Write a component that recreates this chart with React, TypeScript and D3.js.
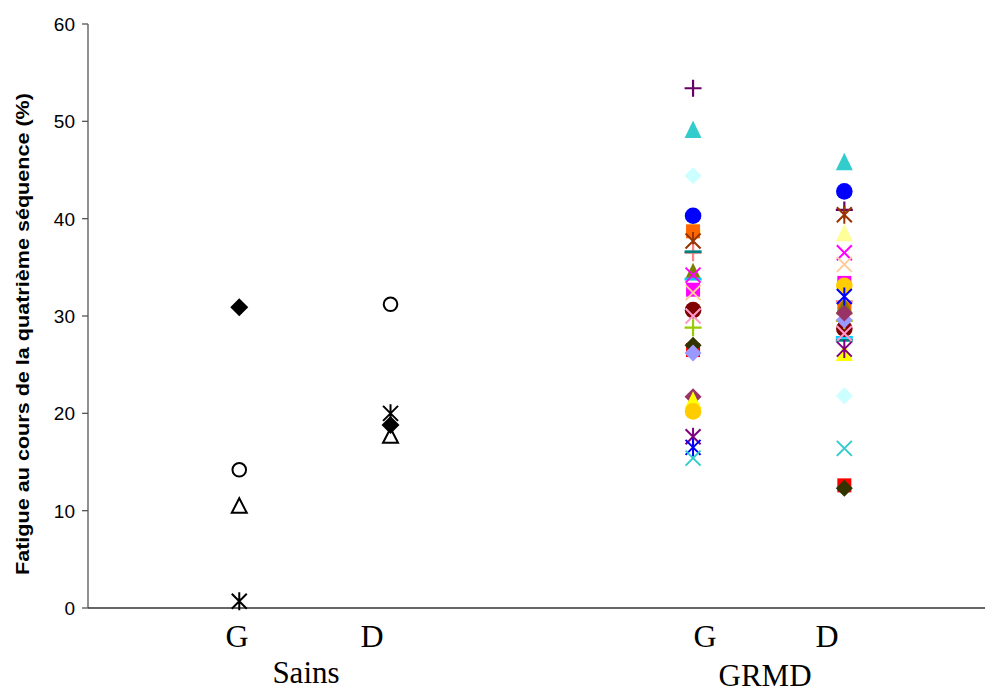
import React from "react";
import * as d3 from "d3";

// ---- data ----
const yTicks = [0, 10, 20, 30, 40, 50, 60];
const sideLabels = ["G", "D", "G", "D"];
const sideLabelPos = [0.985, 1.878, 4.079, 4.886];
const groupLabels = ["Sains", "GRMD"];
const groupLabelPos = [1.441, 4.476];
const xSains = [1, 2];
const xGRMD = [4, 5];

// Sains subjects
const sainsMarkers = ["diamond", "circleOpen", "triangleOpen", "star"];
const sainsG = [30.9, 14.2, 10.5, 0.7];
const sainsD = [18.8, 31.2, 17.7, 20.0];

// GRMD subjects
const grmdMarkers = [
  "plus", "triangle", "diamond", "triangle", "square", "star", "plus", "dash",
  "triangle", "dash", "x", "square", "x", "circle", "x", "plus",
  "square", "diamond", "diamond", "diamond", "triangle", "circle", "star", "star",
  "x", "circle",
];
const grmdColors = [
  "#660066", "#FFFF99", "#CCFFFF", "#33CCCC", "#FF6600", "#993300", "#FF8080", "#008080",
  "#808000", "#00CCFF", "#FF00FF", "#FF00FF", "#FFCC99", "#800000", "#FF99CC", "#99CC00",
  "#FF0000", "#333300", "#9999FF", "#993366", "#FFFF00", "#FFCC00", "#800080", "#0000FF",
  "#33CCCC", "#0000FF",
];
const grmdG = [
  53.4, 39.4, 44.4, 49.1, 38.7, 37.7, 36.5, 36.6,
  34.5, 33.8, 34.2, 32.7, 32.4, 30.6, 30.0, 28.8,
  26.5, 27.0, 26.2, 21.7, 21.3, 20.2, 17.6, 16.5,
  15.4, 40.3,
];
const grmdD = [
  40.9, 38.5, 21.8, 45.8, 30.8, 40.4, 31.5, 27.5,
  31.0, 27.8, 36.5, 33.4, 35.3, 28.7, 28.2, 29.5,
  12.6, 12.3, 29.6, 30.3, 26.2, 33.1, 26.6, 32.0,
  16.4, 42.8,
];

const W = 986;
const H = 693;

function markerShape(type: string, color: string, key: string, cx: number, cy: number, big = false) {
  const h = big ? 9 : 8.5;
  switch (type) {
    case "diamond":
      return <path key={key} d={`M${cx},${cy - h}L${cx + h},${cy}L${cx},${cy + h}L${cx - h},${cy}Z`} fill={color} />;
    case "square":
      return <rect key={key} x={cx - 7} y={cy - 7} width={14} height={14} fill={color} />;
    case "circle":
      return <circle key={key} cx={cx} cy={cy} r={8.3} fill={color} />;
    case "triangle":
      return <path key={key} d={`M${cx},${cy - 9.5}L${cx + 8.5},${cy + 8}L${cx - 8.5},${cy + 8}Z`} fill={color} />;
    case "circleOpen":
      return <circle key={key} cx={cx} cy={cy} r={6.8} fill="none" stroke={color} strokeWidth={2} />;
    case "triangleOpen":
      return <path key={key} d={`M${cx},${cy - 7.5}L${cx + 7.5},${cy + 7}L${cx - 7.5},${cy + 7}Z`} fill="none" stroke={color} strokeWidth={2} />;
    case "plus":
      return <path key={key} d={`M${cx - 8.5},${cy}H${cx + 8.5}M${cx},${cy - 8.5}V${cy + 8.5}`} stroke={color} strokeWidth={2.2} fill="none" />;
    case "x":
      return <path key={key} d={`M${cx - 7.5},${cy - 7.5}L${cx + 7.5},${cy + 7.5}M${cx + 7.5},${cy - 7.5}L${cx - 7.5},${cy + 7.5}`} stroke={color} strokeWidth={2} fill="none" />;
    case "star":
      return <path key={key} d={`M${cx - 7.5},${cy - 7.5}L${cx + 7.5},${cy + 7.5}M${cx + 7.5},${cy - 7.5}L${cx - 7.5},${cy + 7.5}M${cx},${cy - 9}V${cy + 9}`} stroke={color} strokeWidth={2} fill="none" />;
    case "dash":
      return <path key={key} d={`M${cx - 8.5},${cy}H${cx + 8.5}`} stroke={color} strokeWidth={2.8} fill="none" />;
    default:
      return null;
  }
}

export default function App() {
  const x = d3.scaleLinear().domain([0, 5.93]).range([88, 985]);
  const y = d3.scaleLinear().domain([0, 60]).range([608, 24]);

  const marks: React.ReactNode[] = [];
  sainsMarkers.forEach((m, i) => {
    marks.push(markerShape(m, "#000", `sg${i}`, x(xSains[0]), y(sainsG[i]), true));
    marks.push(markerShape(m, "#000", `sd${i}`, x(xSains[1]), y(sainsD[i]), true));
  });
  grmdMarkers.forEach((m, i) => {
    marks.push(markerShape(m, grmdColors[i], `gg${i}`, x(xGRMD[0]), y(grmdG[i])));
    marks.push(markerShape(m, grmdColors[i], `gd${i}`, x(xGRMD[1]), y(grmdD[i])));
  });

  return (
    <svg width={W} height={H} style={{ position: "absolute", left: 0, top: 0, background: "#fff" }}>
      <rect x={0} y={0} width={W} height={H} fill="#fff" />
      {/* y axis */}
      <line x1={88} x2={88} y1={y(60)} y2={y(0)} stroke="#555" strokeWidth={1.3} />
      {yTicks.map((t) => (
        <g key={t}>
          <line x1={82} x2={88} y1={y(t)} y2={y(t)} stroke="#555" strokeWidth={1.3} />
          <text x={75} y={y(t)} dy="0.36em" textAnchor="end" fontFamily="Liberation Sans, Arial, sans-serif" fontSize={19} fill="#000">
            {t}
          </text>
        </g>
      ))}
      {/* x axis */}
      <line x1={88} x2={985} y1={y(0)} y2={y(0)} stroke="#333" strokeWidth={1.3} />
      <text
        transform={`translate(22,${334}) rotate(-90)`}
        textAnchor="middle"
        dy="0.35em"
        fontFamily="Liberation Sans, Arial, sans-serif"
        fontWeight="bold"
        fontSize={19}
        textLength={482}
        lengthAdjust="spacingAndGlyphs"
        fill="#000"
      >
        Fatigue au cours de la quatrième séquence (%)
      </text>
      {sideLabels.map((l, i) => (
        <text key={i} x={x(sideLabelPos[i])} y={647} textAnchor="middle" fontFamily="Liberation Serif, Times New Roman, serif" fontSize={32} fill="#000">
          {l}
        </text>
      ))}
      {groupLabels.map((l, i) => (
        <text key={i} x={x(groupLabelPos[i])} y={i === 0 ? 683 : 686} textAnchor="middle" fontFamily="Liberation Serif, Times New Roman, serif" fontSize={31} fill="#000">
          {l}
        </text>
      ))}
      {marks}
    </svg>
  );
}
